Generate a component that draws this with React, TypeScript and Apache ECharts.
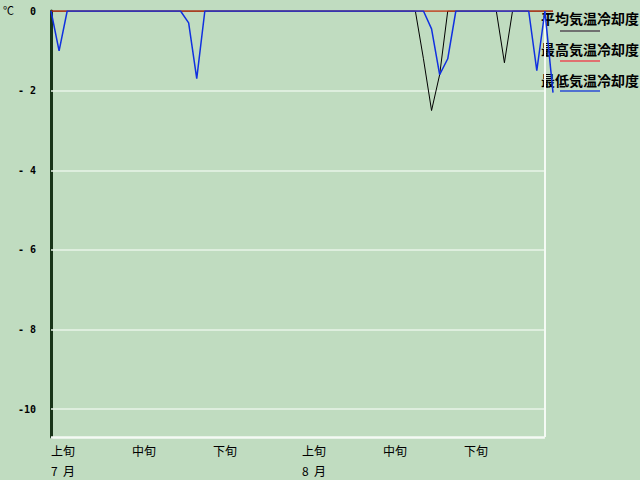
import React, { useEffect, useRef } from "react";
import * as echarts from "echarts";

// day index 0 = 7/1 ... 61 = 8/31, 62 = 9/1
const days: number[] = Array.from({ length: 63 }, (_, i) => i);
const avgCooling: number[] = [
  0, 0, 0, 0, 0, 0, 0, 0, 0, 0,
  0, 0, 0, 0, 0, 0, 0, 0, 0, 0,
  0, 0, 0, 0, 0, 0, 0, 0, 0, 0,
  0, 0, 0, 0, 0, 0, 0, 0, 0, 0,
  0, 0, 0, 0, 0, 0, -1.2, -2.5, -1.6, 0,
  0, 0, 0, 0, 0, 0, -1.3, 0, 0, 0,
  0, 0, 0,
];
const maxCooling: number[] = [
  0, 0, 0, 0, 0, 0, 0, 0, 0, 0,
  0, 0, 0, 0, 0, 0, 0, 0, 0, 0,
  0, 0, 0, 0, 0, 0, 0, 0, 0, 0,
  0, 0, 0, 0, 0, 0, 0, 0, 0, 0,
  0, 0, 0, 0, 0, 0, 0, 0, 0, 0,
  0, 0, 0, 0, 0, 0, 0, 0, 0, 0,
  0, 0, 0,
];
const minCooling: number[] = [
  0, -1.0, 0, 0, 0, 0, 0, 0, 0, 0,
  0, 0, 0, 0, 0, 0, 0, -0.3, -1.7, 0,
  0, 0, 0, 0, 0, 0, 0, 0, 0, 0,
  0, 0, 0, 0, 0, 0, 0, 0, 0, 0,
  0, 0, 0, 0, 0, 0, 0, -0.45, -1.6, -1.2,
  0, 0, 0, 0, 0, 0, 0, 0, 0, 0,
  -1.5, 0, -2.05,
];
const seriesNames: string[] = ["平均気温冷却度", "最高気温冷却度", "最低気温冷却度"];
const seriesColors: string[] = ["#000000", "#c03010", "#1030e0"];
const legendSampleColors: string[] = ["#707070", "#e07070", "#5070d0"];
const yGridValues: number[] = [-2, -4, -6, -8, -10];
const yMin = -10.7;
const yMax = 0;
const frameLastDay = 61;
const xTickLabels: Record<number, string> = {
  0: "上旬\n7  月",
  10: "中旬",
  20: "下旬",
  31: "上旬\n8  月",
  41: "中旬",
  51: "下旬",
};

export default function App() {
  const ref = useRef<HTMLDivElement>(null);
  useEffect(() => {
    if (!ref.current) return;
    const chart = echarts.init(ref.current, null, { renderer: "svg" });
    const allData = [avgCooling, maxCooling, minCooling];
    const legendGraphics: any[] = [];
    seriesNames.forEach((name, i) => {
      legendGraphics.push({
        type: "text",
        x: 541,
        y: 18 + i * 31,
        z: 1,
        style: {
          text: name,
          fill: "#000",
          font: "bold 14px 'Noto Sans CJK JP'",
          verticalAlign: "middle",
        },
      });
      legendGraphics.push({
        type: "line",
        z: 1,
        shape: { x1: 560, y1: 31 + i * 30, x2: 600, y2: 31 + i * 30 },
        style: { stroke: legendSampleColors[i], lineWidth: 2 },
      });
    });

    const frameLines: any[] = [
      ...yGridValues.map((v) => [
        { coord: [0, v], lineStyle: { color: "#e8f4e8", width: 1.5, type: "solid" } },
        { coord: [frameLastDay, v] },
      ]),
      [
        { coord: [0, yMin], lineStyle: { color: "#f4faf4", width: 2.5, type: "solid" } },
        { coord: [frameLastDay, yMin] },
      ],
      [
        { coord: [frameLastDay, yMax], lineStyle: { color: "#f4faf4", width: 2, type: "solid" } },
        { coord: [frameLastDay, yMin] },
      ],
    ];

    chart.setOption({
      animation: false,
      backgroundColor: "#c0dcc0",
      grid: { left: 51, right: 87, top: 11, bottom: 42, containLabel: false },
      xAxis: {
        type: "value",
        min: 0,
        max: 62,
        interval: 1,
        axisLine: { show: false },
        axisTick: { show: false },
        splitLine: { show: false },
        axisLabel: {
          show: true,
          align: "left",
          margin: 3,
          lineHeight: 20,
          color: "#000",
          fontSize: 12,
          fontFamily: "'Noto Sans CJK JP'",
          showMinLabel: true,
          showMaxLabel: true,
          formatter: (v: number) => xTickLabels[Math.round(v)] ?? "",
        },
      },
      yAxis: {
        type: "value",
        min: yMin,
        max: yMax,
        splitNumber: 5,
        position: "left",
        axisLine: { show: true, onZero: false, lineStyle: { color: "#183418", width: 3 } },
        axisTick: { show: false },
        splitLine: { show: false },
        axisLabel: {
          align: "left",
          margin: 33,
          color: "#000",
          fontSize: 10,
          fontWeight: "bold",
          fontFamily: "'DejaVu Sans Mono'",
          formatter: (v: number) => {
            if (Math.abs(v - Math.round(v)) > 1e-6) return "";
            if (v === 0) return "  0";
            const a = Math.abs(v);
            return "-" + (a < 10 ? " " + a : String(a));
          },
        },
      },
      series: [
        {
          name: "frame",
          type: "line",
          data: [],
          z: 1,
          silent: true,
          markLine: {
            silent: true,
            z: 1,
            symbol: ["none", "none"],
            label: { show: false },
            emphasis: { disabled: true },
            data: frameLines,
          },
        },
        ...allData.map((arr, i) => ({
          name: seriesNames[i],
          type: "line",
          data: days.map((d, j) => [d, arr[j]]),
          symbol: "none",
          z: 10 + i,
          lineStyle: { color: seriesColors[i], width: i === 0 ? 1 : 1.5 },
        })),
      ],
      graphic: [
        {
          type: "text",
          left: 3,
          top: 4,
          style: { text: "℃", fill: "#000", font: "11px 'Noto Sans CJK JP'" },
        },
        ...legendGraphics,
      ],
    });
    return () => chart.dispose();
  }, []);
  return (
    <div
      ref={ref}
      style={{ position: "absolute", left: 0, top: 0, width: 640, height: 480 }}
    />
  );
}
